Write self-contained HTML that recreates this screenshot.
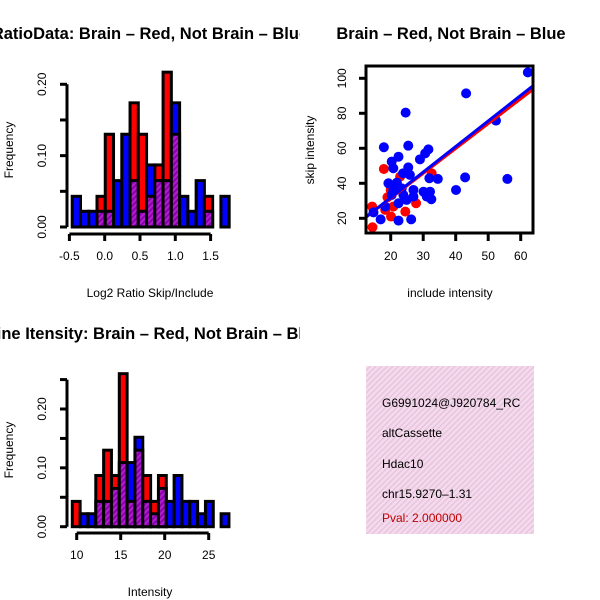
<!DOCTYPE html>
<html><head><meta charset="utf-8"><style>
html,body{margin:0;padding:0;background:#fff;}
svg{display:block;font-family:"Liberation Sans",sans-serif;}
</style></head><body>
<svg id="s" width="600" height="600" viewBox="0 0 600 600">
<defs>
<pattern id="hatch" width="4" height="4" patternUnits="userSpaceOnUse" patternTransform="rotate(45)">
<rect width="4" height="4" fill="#8a00b0"/><rect width="2" height="4" fill="#b020c8"/></pattern>
<pattern id="pink" width="4" height="4" patternUnits="userSpaceOnUse" patternTransform="rotate(45)">
<rect width="4" height="4" fill="#f6d8f0"/><rect width="1.5" height="4" fill="#e4c8d8"/></pattern>
<clipPath id="boxclip"><rect x="366" y="366" width="168" height="168"/></clipPath>
<clipPath id="leftclip"><rect x="0" y="0" width="300" height="600"/></clipPath>
</defs>
<g id="root"></g>
</svg>
<script>
// ---------- Data ----------
const ratioBinStart = -0.46;
const ratioBinWidth = 0.117;
const ratioRed  = [0,0,0,0.043,0.13,0,0,0.174,0.13,0.043,0.087,0.217,0.13,0,0,0,0.043,0,0];
const ratioBlue = [0.043,0.022,0.022,0.022,0.022,0.065,0.13,0.065,0.022,0.087,0.065,0.065,0.174,0.043,0.022,0.065,0.022,0,0.043];
const ratioXTicks = [-0.5,0,0.5,1,1.5];
const ratioXLabels = ["-0.5","0.0","0.5","1.0","1.5"];
const ratioYTicks = [0,0.05,0.1,0.15,0.2];
const ratioYLabels = {"0":"0.00","0.1":"0.10","0.2":"0.20"};

const intBinStart = 9.5;
const intBinWidth = 0.89;
const intRed  = [0.043,0,0,0.087,0.13,0.087,0.26,0.043,0.13,0.087,0.043,0.087,0,0,0,0,0,0,0,0];
const intBlue = [0,0.022,0.022,0.043,0.043,0.065,0.109,0.109,0.152,0.043,0.022,0.065,0.043,0.087,0.043,0.043,0.022,0.043,0,0.022];
const intXTicks = [10,15,20,25];
const intYTicks = [0,0.05,0.1,0.15,0.2,0.25];
const intYLabels = {"0":"0.00","0.1":"0.10","0.2":"0.20"};

const blueX = [62.2,43.2,24.6,52.4,17.9,25.4,31.6,30.6,29.0,22.4,20.3,20.8,25.4,23.8,25.9,31.9,34.5,42.9,55.9,19.3,21.9,23.4,27,40.1,30.1,32.1,20.3,23.9,27,31.1,32.5,22.4,18.3,14.7,16.9,22.4,26.3,24.9,20.8];
const blueY = [103.4,91.4,80.4,75.8,60.6,61.5,59.4,57.1,53.7,55.2,52.4,48.6,49.1,45.7,44.8,42.9,42.5,43.4,42.5,40,40.4,37.1,36.2,36.2,35.2,35.2,33.3,33.3,32.4,32.4,30.9,28.6,26.7,23.4,19.4,18.7,19.4,30.5,36.2];
const redX = [14.4,17.9,14.3,19.0,20,20.1,24.5,27.8,32.6,22.9,18.3,20.8];
const redY = [14.9,48.2,26.7,32,36.2,21,23.8,28.6,45.7,43.8,24.8,26.7];
const redFit  = [3.1,1.42];   // intercept, slope
const blueFit = [2.6,1.46];
const scXTicks = [20,30,40,50,60];
const scYTicks = [20,40,60,80,100];

const NS="http://www.w3.org/2000/svg";
const root=document.getElementById('root');
function mk(tag,attrs,parent){const e=document.createElementNS(NS,tag);for(const k in attrs)e.setAttribute(k,attrs[k]);(parent||root).appendChild(e);return e;}
function txt(x,y,s,opts,parent){const o=Object.assign({x:x,y:y,'font-size':12,'text-anchor':'middle',fill:'#000'},opts||{});const e=mk('text',o,parent);e.textContent=s;return e;}

function hist(name,bs,bw,red,blue,xs,ys,xTicks,xLabels,yTicks,yLabels,xAxisY,yAxisX){
  const g=mk('g',{});
  
  
  for(let i=0;i<red.length;i++){
    const x0=xs(bs+i*bw), x1=xs(bs+(i+1)*bw);
    const r=red[i], b=blue[i], mx=Math.max(r,b), mn=Math.min(r,b);
    if(mx<=0) continue;
    const col = r>=b ? '#ff0000' : '#0000ff';
    const bar=mk('rect',{x:x0,y:ys(mx),width:x1-x0,height:ys(0)-ys(mx),fill:col,stroke:'#000','stroke-width':3},g);
    
    
    if(mn>0){
      const ov=mk('rect',{x:x0,y:ys(mn),width:x1-x0,height:ys(0)-ys(mn),fill:'url(#hatch)',stroke:'#000','stroke-width':3},g);
      
      
    }
  }
  const xa=mk('g',{},g);
  
  
  mk('line',{x1:xs(xTicks[0]),x2:xs(xTicks[xTicks.length-1]),y1:xAxisY,y2:xAxisY,stroke:'#000','stroke-width':3},xa);
  xTicks.forEach((t,i)=>{mk('line',{x1:xs(t),x2:xs(t),y1:xAxisY,y2:xAxisY+7,stroke:'#000','stroke-width':3},xa);
    txt(xs(t),xAxisY+26,xLabels[i],{},xa);});
  const ya=mk('g',{},g);
  
  
  mk('line',{x1:yAxisX,x2:yAxisX,y1:ys(yTicks[0]),y2:ys(yTicks[yTicks.length-1]),stroke:'#000','stroke-width':3},ya);
  yTicks.forEach(t=>{mk('line',{x1:yAxisX,x2:yAxisX-7,y1:ys(t),y2:ys(t),stroke:'#000','stroke-width':3},ya);
    const k=String(Math.round(t*100)/100); if(yLabels[k]!==undefined){txt(0,0,yLabels[k],{transform:`translate(${yAxisX-21},${ys(t)}) rotate(-90)`},ya);}});
}

// Histogram 1
const h1x=v=>104.7+(v-0)*70.6;
const h1y=v=>227-v*(142.7/0.2);
hist('ratio-histogram',ratioBinStart,ratioBinWidth,ratioRed,ratioBlue,h1x,h1y,ratioXTicks,ratioXLabels,ratioYTicks,ratioYLabels,234,67);
// Histogram 2
const h2x=v=>76.7+(v-10)*8.8;
const h2y=v=>526.7-v*(117.7/0.2);
hist('intensity-histogram',intBinStart,intBinWidth,intRed,intBlue,h2x,h2y,intXTicks,intXTicks.map(String),intYTicks,intYLabels,533,67);

// Scatter
const sx=v=>390.7+(v-20)*3.25;
const sy=v=>218.3-(v-20)*1.75;
const sg=mk('g',{});


const clipS=mk('clipPath',{id:'scclip'},sg);mk('rect',{x:366,y:66,width:167,height:167},clipS);
const pts=mk('g',{'clip-path':'url(#scclip)'},sg);
for(let i=0;i<redX.length;i++){const c=mk('circle',{cx:sx(redX[i]),cy:sy(redY[i]),r:5,fill:'#ff0000'},pts);
  
  }
for(let i=0;i<blueX.length;i++){const c=mk('circle',{cx:sx(blueX[i]),cy:sy(blueY[i]),r:5,fill:'#0000ff'},pts);
  
  }
[[redFit,'#ff0000','red-fit-line'],[blueFit,'#0000ff','blue-fit-line']].forEach(([f,c,n])=>{
  const x0=12,x1=65;
  const l=mk('line',{x1:sx(x0),y1:sy(f[0]+f[1]*x0),x2:sx(x1),y2:sy(f[0]+f[1]*x1),stroke:c,'stroke-width':3},pts);
  
  });
mk('rect',{x:366,y:66,width:167,height:167,fill:'none',stroke:'#000','stroke-width':3},sg);
scXTicks.forEach(t=>{mk('line',{x1:sx(t),x2:sx(t),y1:234,y2:241,stroke:'#000','stroke-width':3},sg);txt(sx(t),260,String(t),{},sg);});
scYTicks.forEach(t=>{mk('line',{x1:366,x2:359,y1:sy(t),y2:sy(t),stroke:'#000','stroke-width':3},sg);
  txt(0,0,String(t),{transform:`translate(346,${sy(t)}) rotate(-90)`},sg);});

// Titles & labels
const T=(x,y,s,n,o,p)=>{const e=txt(x,y,s,o,p);return e;};
const lc=mk('g',{'clip-path':'url(#leftclip)'});
T(150,39,'RatioData: Brain – Red, Not Brain – Blue','ratio-title',{'font-size':16.5,'font-weight':'bold'},lc);
T(451,39,'Brain – Red, Not Brain – Blue','scatter-title',{'font-size':16.5,'font-weight':'bold'});
T(132,339,'Exon Line Itensity: Brain – Red, Not Brain – Blue','intensity-title',{'font-size':16.5,'font-weight':'bold'},lc);
T(150,297,'Log2 Ratio Skip/Include','ratio-x-axis-title');
T(450,297,'include intensity','scatter-x-axis-title');
T(150,596,'Intensity','intensity-x-axis-title');
T(0,0,'Frequency','ratio-y-axis-title',{transform:'translate(13,150) rotate(-90)'});
T(0,0,'Frequency','intensity-y-axis-title',{transform:'translate(13,450) rotate(-90)'});
T(0,0,'skip intensity','scatter-y-axis-title',{transform:'translate(314,150) rotate(-90)'});

// Info box
const ib=mk('g',{});


mk('rect',{x:366,y:366,width:168,height:168,fill:'url(#pink)'},ib);
const ic=mk('g',{'clip-path':'url(#boxclip)'},ib);
const info=[['G6991024@J920784_RC','#000',407,'event-id'],['altCassette','#000',437,'event-type'],['Hdac10','#000',468,'gene-name'],['chr15.9270–1.31','#000',498,'location'],['Pval: 2.000000','#c00000',522,'p-value']];
info.forEach(([s,c,y,n])=>{const e=txt(382,y,s,{'text-anchor':'start',fill:c},ic);});
</script>
</body></html>
